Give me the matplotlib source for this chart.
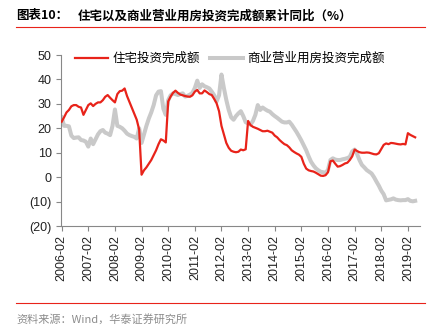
import matplotlib

matplotlib.use("Agg")

import matplotlib.pyplot as plt  # noqa: E402
from matplotlib.lines import Line2D  # noqa: E402

# cumulative yoy growth (%), Feb..Dec each year (Jan not published), 2006-02 .. 2019-05
RESIDENTIAL = [
    22.7, 24.5, 26.5, 27.5, 29.0, 29.5, 29.5, 28.8, 28.5, 25.5, 27.5,  # 2006
    29.5, 30.2, 29.1, 30.0, 30.6, 30.6, 31.5, 32.9, 33.6, 32.5, 31.5,  # 2007
    30.6, 34.0, 35.2, 35.4, 36.3, 33.2, 30.8, 28.5, 26.0, 23.5, 19.5,  # 2008
    1.0, 2.8, 4.0, 5.5, 7.0, 9.0, 11.0, 13.5, 15.5, 15.0, 14.2,  # 2009
    31.0, 33.0, 34.5, 35.4, 34.5, 33.8, 33.5, 33.2, 33.0, 32.9, 33.5,  # 2010
    35.0, 35.7, 34.3, 34.3, 35.5, 34.8, 34.0, 33.6, 32.0, 30.2, 27.0,  # 2011
    21.0, 17.5, 14.0, 12.0, 10.8, 10.4, 10.2, 10.4, 11.3, 11.0, 11.4,  # 2012
    23.0, 21.3, 20.6, 20.2, 19.8, 19.3, 18.8, 18.8, 19.0, 18.6, 18.2,  # 2013
    17.0, 16.3, 15.2, 14.3, 13.5, 13.1, 12.2, 11.0, 10.3, 9.7, 9.2,  # 2014
    8.3, 5.5, 3.5, 2.8, 2.5, 2.3, 1.8, 1.2, 0.6, 0.5, 0.8,  # 2015
    2.0, 6.5, 6.8, 5.5, 4.3, 4.5, 5.0, 5.6, 5.9, 7.0, 8.5,  # 2016
    11.3, 10.7, 10.2, 10.0, 10.0, 10.1, 10.0, 9.7, 9.4, 9.3, 9.8,  # 2017
    11.5, 13.2, 13.8, 13.5, 14.0, 13.9, 13.7, 13.5, 13.4, 13.6, 13.4,  # 2018
    18.0, 17.3, 16.8, 16.3,  # 2019
]
COMMERCIAL = [
    24.5, 21.0, 21.0, 20.8, 17.0, 16.0, 16.2, 16.3, 15.2, 15.0, 14.5,  # 2006
    12.5, 15.8, 13.5, 15.5, 17.5, 18.8, 19.3, 18.2, 17.8, 17.2, 21.0,  # 2007
    27.7, 21.0, 20.6, 20.0, 19.0, 17.8, 17.2, 16.8, 16.5, 15.8, 20.0,  # 2008
    14.0, 17.5, 21.0, 24.0, 26.5, 29.5, 33.5, 35.0, 35.2, 28.0, 25.5,  # 2009
    31.5, 33.5, 34.3, 34.0, 33.6, 34.0, 34.3, 33.0, 33.3, 33.8, 34.5,  # 2010
    36.5, 39.5, 36.5, 38.0, 37.2, 36.8, 36.3, 35.0, 33.5, 31.0, 33.5,  # 2011
    42.0, 36.5, 31.6, 27.5, 24.5, 23.5, 25.0, 26.1, 27.0, 25.0, 22.5,  # 2012
    22.0, 21.5, 23.0, 25.5, 29.5, 27.5, 28.5, 27.8, 27.2, 26.8, 25.8,  # 2013
    25.0, 24.3, 23.5, 22.7, 22.4, 22.4, 22.7, 21.5, 20.0, 18.5, 16.8,  # 2014
    15.0, 13.0, 11.0, 8.5, 6.3, 4.8, 3.6, 2.8, 2.2, 2.0, 1.8,  # 2015
    3.0, 7.0, 7.7, 7.2, 7.0, 7.0, 7.3, 7.5, 7.8, 8.3, 10.5,  # 2016
    11.3, 9.5, 7.0, 5.0, 4.0, 2.9, 2.2, 1.5, 0.0, -1.8, -3.5,  # 2017
    -5.5, -7.0, -9.5, -9.3, -9.1, -8.7, -9.2, -9.4, -9.5, -9.4, -9.4,  # 2018
    -9.0, -9.7, -9.9, -9.7,  # 2019
]
YEARS = list(range(2006, 2020))
X_LABELS = [f"{y}-02" for y in YEARS]
Y_TICKS = [50, 40, 30, 20, 10, 0, -10, -20]
Y_LABELS = ["50", "40", "30", "20", "10", "0", "(10)", "(20)"]

RED = "#E8231A"
GREY = "#C9C9C9"
CJK = ["Noto Sans CJK SC", "DejaVu Sans"]
NUM = ["Liberation Sans", "DejaVu Sans"]

W, H = 436, 333
fig = plt.figure(figsize=(W / 100, H / 100), dpi=100)
ax = fig.add_axes([60.7 / W, 1 - 226 / H, 359.3 / W, 171 / H])

x = list(range(len(RESIDENTIAL)))
ax.plot(x, COMMERCIAL, color=GREY, lw=2.9, label="商业营业用房投资完成额", zorder=2)
ax.plot(x, RESIDENTIAL, color=RED, lw=1.6, label="住宅投资完成额", zorder=3)

ax.set_xlim(-0.4, 148)
ax.set_ylim(-20, 50)
ax.set_xticks([11 * i for i in range(len(YEARS))])
ax.set_xticklabels(X_LABELS, rotation=90, fontsize=9, family=NUM, color="#222")
ax.set_yticks(Y_TICKS)
ax.set_yticklabels(Y_LABELS, fontsize=9, family=NUM, color="#222")
ax.tick_params(length=3.5, width=0.8, color="#888", pad=3)
for side in ("top", "right"):
    ax.spines[side].set_visible(False)
for side in ("left", "bottom"):
    ax.spines[side].set_color("#888")
    ax.spines[side].set_linewidth(0.8)

handles, labels = ax.get_legend_handles_labels()
fig.legend(
    handles[::-1], labels[::-1], loc="center left",
    bbox_to_anchor=(75 / W, 1 - 58.5 / H), ncol=2, frameon=False,
    prop={"family": CJK, "size": 9}, handlelength=2.6, handletextpad=0.4,
    columnspacing=0.8, borderpad=0, borderaxespad=0,
)

fig.text(16 / W, 1 - 16 / H, "图表10：", fontsize=9, fontweight="bold",
         family=CJK, va="center", ha="left")
fig.text(78 / W, 1 - 16 / H, "住宅以及商业营业用房投资完成额累计同比（%）",
         fontsize=9, fontweight="bold", family=CJK, va="center", ha="left")
fig.add_artist(Line2D([16 / W, 425 / W], [1 - 26.7 / H] * 2, color=RED, lw=0.8))
fig.add_artist(Line2D([16 / W, 425 / W], [1 - 303 / H] * 2, color=RED, lw=0.8))
fig.text(16 / W, 1 - 319 / H, "资料来源：Wind，华泰证券研究所", fontsize=8,
         color="#8C8C8C", family=CJK, va="center", ha="left")

fig.savefig("out.png", dpi=100)
